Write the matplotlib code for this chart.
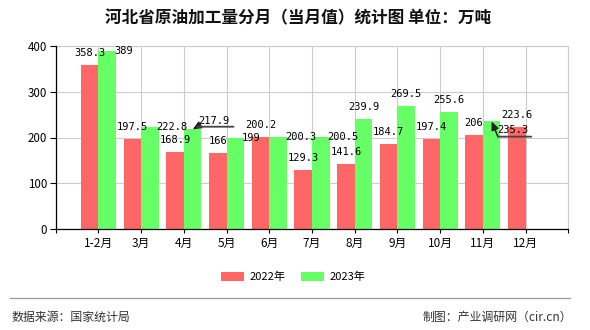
import matplotlib
matplotlib.use("Agg")
import matplotlib.pyplot as plt
import matplotlib.transforms as mtransforms
from matplotlib.lines import Line2D
from matplotlib.patches import Patch
import numpy as np

plt.rcParams['font.family'] = ['Noto Sans CJK SC', 'DejaVu Sans']

categories = ["1-2月", "3月", "4月", "5月", "6月", "7月", "8月", "9月", "10月", "11月", "12月"]
v2022 = [358.3, 197.5, 168.9, 166, 200.2, 129.3, 141.6, 184.7, 197.4, 206, 223.6]
v2023 = [389, 222.8, 217.9, 199, 200.3, 200.5, 239.9, 269.5, 255.6, 235.3, None]
series_names = ["2022年", "2023年"]
yticks = [0, 100, 200, 300, 400]

c_red = "#FF6666"
c_green = "#66FF66"
PX = 0.72  # points per pixel at dpi 100

fig = plt.figure(figsize=(5.9, 3.3), dpi=100)
ax = fig.add_axes([55.7 / 590, 1 - 229 / 330, (568.3 - 55.7) / 590, (229 - 46) / 330])

x = np.arange(len(categories))
w = 0.41
ax.bar(x - w, v2022, width=w, align='edge', color=c_red, zorder=2)
x23 = [xi for xi, v in zip(x, v2023) if v is not None]
y23 = [v for v in v2023 if v is not None]
ax.bar(x23, y23, width=w, align='edge', color=c_green, zorder=2)

ax.set_xlim(-1, len(categories))
ax.set_ylim(0, 400)
ax.set_yticks(yticks)
ax.set_yticklabels([str(t) for t in yticks], fontsize=8.3)
ticks_x = np.arange(-1, len(categories) + 1)
ax.set_xticks(ticks_x)
ax.set_xticklabels([""] + categories + [""], fontsize=8.5)
ax.tick_params(axis='y', direction='out', length=4, width=0.8, pad=2, colors='black')
ax.tick_params(axis='x', direction='out', length=3, width=0.8, pad=3, colors='black')

ax.grid(True, color='#cccccc', linewidth=0.8, zorder=0)
ax.set_axisbelow(True)
for s in ['top', 'right']:
    ax.spines[s].set_color('#cccccc')
    ax.spines[s].set_linewidth(0.8)
for s in ['left', 'bottom']:
    ax.spines[s].set_color('black')
    ax.spines[s].set_linewidth(0.9)
    ax.spines[s].set_zorder(3)

lblfont = dict(family='DejaVu Sans Mono', fontsize=7.5, color='black')

# 2022 labels: centered above red bars
for xi, v in zip(x, v2022):
    ax.annotate(f"{v:g}", xy=(xi - w / 2, v), xytext=(0, 12 * PX), textcoords='offset points',
                ha='center', va='center', zorder=4, **lblfont)

# 2023 labels: placement as in the reference
side = {0, 1, 3, 4, 5}
above = {6, 7, 8}
for xi, v in zip(x, v2023):
    if v is None:
        continue
    if xi in side:
        ax.annotate(f"{v:g}", xy=(xi + w, v), xytext=(-2 * PX, 0), textcoords='offset points',
                    ha='left', va='center', zorder=4, **lblfont)
    elif xi in above:
        ax.annotate(f"{v:g}", xy=(xi + w / 2, v), xytext=(0, 12 * PX), textcoords='offset points',
                    ha='center', va='center', zorder=4, **lblfont)

# displaced labels with leader lines (offsets in pixels relative to bar top centre)
leaders = {2: dict(text=(21.4, 8.8), ul=(4.6, 40.9, 2.6)),
           9: dict(text=(21.3, -8.6), ul=(6.3, 39.7, -15.3))}
for i, spec in leaders.items():
    v = v2023[i]
    P = (i + w / 2, v)
    tx, ty = spec['text']
    ax.annotate(f"{v:g}", xy=P, xytext=(tx * PX, ty * PX), textcoords='offset points',
                ha='center', va='center', zorder=5, **lblfont)
    x0, x1, uy = spec['ul']
    ax.annotate("", xy=P, xytext=(x0 * PX, uy * PX), textcoords='offset points',
                arrowprops=dict(arrowstyle='-|>,head_length=0.5,head_width=0.22', color='#222222',
                                lw=1.1, shrinkA=0, shrinkB=0), zorder=5)
    tA = mtransforms.offset_copy(ax.transData, fig=fig, x=x0, y=uy, units='dots')
    tB = mtransforms.offset_copy(ax.transData, fig=fig, x=x1, y=uy, units='dots')
    ax.annotate("", xy=P, xycoords=tB, xytext=P, textcoords=tA, zorder=5,
                arrowprops=dict(arrowstyle='-', color='#444444', lw=1.3, shrinkA=0, shrinkB=0))

# title
fig.text(0.505, 1 - 18 / 330, "河北省原油加工量分月（当月值）统计图 单位：万吨", ha='center', va='center',
         fontsize=12, fontweight='bold', color='#111111')

# legend
handles = [Patch(facecolor=c_red, edgecolor='none'), Patch(facecolor=c_green, edgecolor='none')]
fig.legend(handles, series_names, loc='center', bbox_to_anchor=(0.497, 1 - 277 / 330), ncol=2,
           frameon=False, fontsize=8, handlelength=2.07, handleheight=0.8, handletextpad=0.45,
           columnspacing=1.45, borderaxespad=0, borderpad=0)

# footer
fig.add_artist(Line2D([10 / 590, 570 / 590], [1 - 298.3 / 330, 1 - 298.3 / 330], color='#999999', lw=0.9))
fig.text(11.7 / 590, 1 - 317.5 / 330, "数据来源：国家统计局", ha='left', va='center', fontsize=8.6, color='#333333')
fig.text(571.7 / 590, 1 - 317.5 / 330, "制图：产业调研网（cir.cn）", ha='right', va='center', fontsize=8.6, color='#333333')

fig.savefig("out.png", dpi=100)
